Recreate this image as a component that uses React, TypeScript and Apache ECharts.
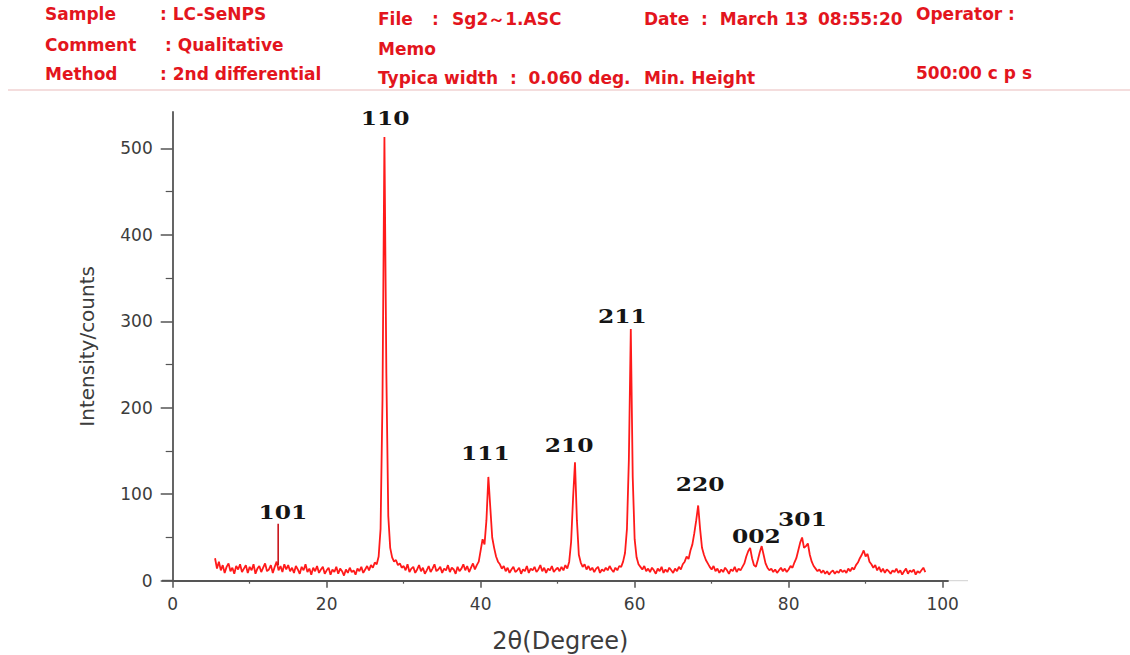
import React, { useEffect, useRef } from "react";
import * as echarts from "echarts";

// ---- data ----
const ANGLE_START = 5.5; // first recorded 2θ
const ANGLE_STEP = 0.25; // sampling step of the digitised scan
const counts05to10 = [26, 14, 22, 12, 18, 9, 16, 20, 11, 15, 8, 17, 13, 19, 10, 14, 18, 9];
const counts10to15 = [16, 12, 19, 8, 14, 17, 10, 15, 20, 11, 13, 18, 9, 16, 22, 12, 17, 10, 19, 13];
const counts15to20 = [18, 11, 15, 9, 17, 13, 8, 16, 12, 19, 10, 14, 7, 15, 11, 17, 9, 13, 16, 8];
const counts20to25 = [12, 15, 7, 13, 10, 16, 8, 14, 11, 6, 13, 9, 15, 10, 12, 7, 14, 11, 16, 9];
const counts25to30 = [13, 17, 12, 18, 15, 21, 19, 28, 60, 210, 513, 240, 75, 38, 27, 22, 24, 18, 20, 15];
const counts30to35 = [17, 12, 19, 10, 14, 16, 9, 13, 18, 11, 15, 8, 12, 17, 10, 14, 19, 11, 13, 16];
const counts35to40 = [9, 14, 12, 18, 10, 15, 13, 8, 16, 11, 14, 19, 12, 17, 10, 15, 20, 13, 18, 22];
const counts40to45 = [35, 48, 42, 70, 120, 85, 50, 38, 28, 22, 19, 14, 17, 11, 15, 9, 13, 16, 10, 12];
const counts45to50 = [15, 8, 13, 11, 17, 9, 14, 12, 16, 10, 13, 18, 11, 15, 9, 14, 12, 17, 10, 13];
const counts50to55 = [15, 11, 16, 12, 18, 14, 22, 45, 95, 137, 70, 30, 21, 16, 19, 13, 17, 12, 15, 10];
const counts55to60 = [14, 16, 9, 13, 11, 15, 12, 17, 13, 10, 15, 12, 17, 16, 22, 32, 60, 140, 291, 120];
const counts60to65 = [48, 27, 19, 16, 13, 17, 11, 14, 10, 15, 12, 8, 14, 11, 16, 9, 13, 10, 15, 12];
const counts65to70 = [9, 14, 11, 16, 13, 19, 22, 28, 25, 35, 42, 55, 70, 87, 60, 38, 30, 24, 20, 16];
const counts70to75 = [13, 17, 11, 14, 9, 13, 10, 15, 12, 8, 13, 11, 16, 10, 14, 12, 16, 20, 28, 34];
const counts75to80 = [38, 26, 18, 16, 24, 33, 40, 30, 20, 15, 12, 14, 10, 13, 9, 12, 15, 11, 14, 10];
const counts80to85 = [13, 17, 15, 21, 26, 35, 44, 50, 38, 40, 43, 30, 22, 17, 14, 11, 13, 9, 12, 8];
const counts85to90 = [11, 7, 10, 12, 8, 11, 9, 13, 10, 12, 9, 14, 11, 15, 13, 18, 21, 26, 30, 35];
const counts90to95 = [28, 31, 22, 19, 15, 18, 12, 16, 10, 14, 9, 13, 11, 8, 12, 10, 14, 9, 12, 7];
const counts95to98 = [11, 14, 8, 12, 10, 13, 7, 11, 9, 12, 15, 10];

const stickAngle = 13.7; // the (101) reflection marker
const stickLow = 18;
const stickHigh = 66;

const hklLabels = ["101", "110", "111", "210", "211", "220", "002", "301"];
const hklAngles = [14.3, 27.6, 40.6, 51.5, 58.4, 68.5, 75.8, 81.8];
const hklCounts = [79, 534, 147, 156, 306, 111, 51, 71];

const xTicks = [0, 20, 40, 60, 80, 100];
const xMinorTicks = [10, 30, 50, 70, 90];
const yTicks = [0, 100, 200, 300, 400, 500];
const yMinorTicks = [50, 150, 250, 350, 450];

const X_MAX = 100.7;
const Y_MAX = 542;

const intensity = [
  ...counts05to10, ...counts10to15, ...counts15to20, ...counts20to25, ...counts25to30,
  ...counts30to35, ...counts35to40, ...counts40to45, ...counts45to50, ...counts50to55,
  ...counts55to60, ...counts60to65, ...counts65to70, ...counts70to75, ...counts75to80,
  ...counts80to85, ...counts85to90, ...counts90to95, ...counts95to98,
];
const scan = intensity.map((c, i) => [+(ANGLE_START + i * ANGLE_STEP).toFixed(2), c]);

const RED = "#e3151d";
const AXIS = "#555555";
const LABEL = "#3c3c3c";
const SANS = "DejaVu Sans";

function headerText(text: string, x: number, y: number) {
  return {
    type: "text",
    x,
    y,
    silent: true,
    style: {
      text,
      fill: RED,
      font: `bold 17px '${SANS}'`,
      align: "left",
      verticalAlign: "middle",
    },
  };
}

export default function App() {
  const ref = useRef<HTMLDivElement>(null);

  useEffect(() => {
    const chart = echarts.init(ref.current!, null, { renderer: "svg" });
    chart.setOption({
      animation: false,
      backgroundColor: "#ffffff",
      textStyle: { fontFamily: SANS },
      grid: {
        left: 172.7,
        top: 112,
        width: 775.3,
        height: 468.7,
        containLabel: false,
        outerBoundsMode: "none",
      },
      xAxis: [
        {
          type: "value",
          min: 0,
          max: X_MAX,
          name: "2θ(Degree)",
          nameLocation: "middle",
          nameGap: 48,
          nameTextStyle: { fontSize: 24, color: LABEL, fontFamily: SANS },
          axisLine: { show: true, lineStyle: { color: AXIS, width: 1.8 } },
          axisTick: { show: true, inside: false, length: 7, customValues: xTicks, lineStyle: { color: AXIS, width: 1.5 } },
          axisLabel: { customValues: xTicks, fontSize: 17, color: LABEL, margin: 15, fontFamily: SANS },
          splitLine: { show: false },
        },
        {
          type: "value",
          min: 0,
          max: X_MAX,
          position: "bottom",
          axisLine: { show: false },
          axisTick: { show: true, length: 3, customValues: xMinorTicks, lineStyle: { color: AXIS, width: 1.2 } },
          axisLabel: { show: false },
          splitLine: { show: false },
        },
      ],
      yAxis: [
        {
          type: "value",
          min: 0,
          max: Y_MAX,
          position: "left",
          name: "Intensity/counts",
          nameLocation: "middle",
          nameGap: 76,
          nameTextStyle: { fontSize: 20, color: LABEL, fontFamily: SANS },
          axisLine: { show: true, lineStyle: { color: AXIS, width: 1.8 } },
          axisTick: { show: true, length: 12, customValues: yTicks, lineStyle: { color: AXIS, width: 1.5 } },
          axisLabel: { customValues: yTicks, fontSize: 17, color: LABEL, margin: 20, fontFamily: SANS },
          splitLine: { show: false },
        },
        {
          type: "value",
          min: 0,
          max: Y_MAX,
          position: "left",
          axisLine: { show: false },
          axisTick: { show: true, length: 7, customValues: yMinorTicks, lineStyle: { color: AXIS, width: 1.2 } },
          axisLabel: { show: false },
          splitLine: { show: false },
        },
      ],
      series: [
        {
          type: "line",
          xAxisIndex: 0,
          yAxisIndex: 0,
          data: scan,
          showSymbol: false,
          symbol: "none",
          lineStyle: { color: "#ff1a1a", width: 1.8 },
          z: 3,
        },
        {
          type: "line",
          xAxisIndex: 0,
          yAxisIndex: 0,
          data: [
            [stickAngle, stickLow],
            [stickAngle, stickHigh],
          ],
          showSymbol: false,
          symbol: "none",
          lineStyle: { color: "#c8141a", width: 1.6 },
          z: 4,
        },
      ],
    });

    const labels = hklLabels.map((t, i) => {
      const p = chart.convertToPixel({ xAxisIndex: 0, yAxisIndex: 0 }, [hklAngles[i], hklCounts[i]]) as number[];
      return {
        type: "text",
        x: p[0],
        y: p[1],
        scaleX: 1.3,
        silent: true,
        z: 10,
        style: {
          text: t,
          fill: "#151515",
          font: "bold 18px 'DejaVu Serif'",
          align: "center",
          verticalAlign: "middle",
        },
      };
    });

    chart.setOption({
      graphic: [
        headerText("Sample", 45, 14),
        headerText(": LC-SeNPS", 160, 14),
        headerText("Comment", 45, 45),
        headerText(": Qualitative", 165, 45),
        headerText("Method", 45, 74),
        headerText(": 2nd differential", 160, 74),
        headerText("File", 378, 19),
        headerText(":", 432, 19),
        headerText("Sg2～1.ASC", 452, 19),
        headerText("Memo", 378, 49),
        headerText("Typica width  :  0.060 deg.", 378, 78),
        headerText("Date  :  March 13", 644, 19),
        headerText("08:55:20", 818, 19),
        headerText("Min. Height", 644, 78),
        headerText("Operator :", 916, 14),
        headerText("500:00 c p s", 916, 73),
        {
          type: "line",
          silent: true,
          shape: { x1: 8, y1: 90, x2: 1130, y2: 90 },
          style: { stroke: "#f0d2d2", lineWidth: 1.5 },
        },
        {
          type: "line",
          silent: true,
          shape: { x1: 162, y1: 580.7, x2: 172.7, y2: 580.7 },
          style: { stroke: AXIS, lineWidth: 1.8 },
        },
        {
          type: "line",
          silent: true,
          shape: { x1: 948, y1: 580.7, x2: 968, y2: 580.7 },
          style: { stroke: "#d0d0d0", lineWidth: 1 },
        },
        ...labels,
      ],
    });

    return () => chart.dispose();
  }, []);

  return (
    <div
      ref={ref}
      style={{ position: "fixed", left: 0, top: 0, width: 1130, height: 655, background: "#fff" }}
    />
  );
}
